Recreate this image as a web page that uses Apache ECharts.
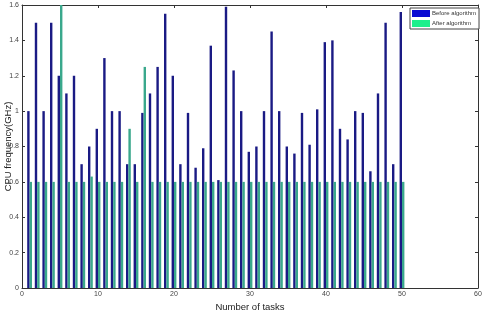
<!DOCTYPE html>
<html>
<head>
<meta charset="utf-8">
<script src="https://cdn.jsdelivr.net/npm/echarts@6/dist/echarts.min.js"></script>
<style>html,body{margin:0;padding:0;background:#fff;}#c{width:482px;height:312px;}</style>
</head>
<body>
<div id="c"></div>
<script>
const tasks = [1,2,3,4,5,6,7,8,9,10,11,12,13,14,15,16,17,18,19,20,21,22,23,24,25,26,27,28,29,30,31,32,33,34,35,36,37,38,39,40,41,42,43,44,45,46,47,48,49,50];
const before = [1.0,1.5,1.0,1.5,1.2,1.1,1.2,0.7,0.8,0.9,1.3,1.0,1.0,0.7,0.7,0.99,1.1,1.25,1.55,1.2,0.7,0.99,0.68,0.79,1.37,0.61,1.59,1.23,1.0,0.77,0.8,1.0,1.45,1.0,0.8,0.76,0.99,0.81,1.01,1.39,1.4,0.9,0.84,1.0,0.99,0.66,1.1,1.5,0.7,1.56];
const after = [0.6,0.6,0.6,0.6,1.6,0.6,0.6,0.6,0.63,0.6,0.6,0.6,0.6,0.9,0.6,1.25,0.6,0.6,0.6,0.6,0.6,0.6,0.6,0.6,0.6,0.6,0.6,0.6,0.6,0.6,0.6,0.6,0.6,0.6,0.6,0.6,0.6,0.6,0.6,0.6,0.6,0.6,0.6,0.6,0.6,0.6,0.6,0.6,0.6,0.6];
const seriesNames = ['Before algorithm','After algorithm'];
const xTicks = [0,10,20,30,40,50,60];
const yTicks = [0,0.2,0.4,0.6,0.8,1,1.2,1.4,1.6];

const chart = echarts.init(document.getElementById('c'));
const axisLine = {show:true, onZero:false, lineStyle:{color:'#333', width:1}};
const tick = {show:true, inside:true, length:3, lineStyle:{color:'#333'}};
const lbl = {color:'#444', fontSize:7, fontFamily:'Liberation Sans'};
const fmtY = v => String(Math.round(v*10)/10);
chart.setOption({
  animation:false,
  backgroundColor:'#fff',
  grid:{left:22, right:4, top:5, bottom:24, containLabel:false, outerBoundsMode:'none'},
  legend:{
    data:[{name:seriesNames[0], itemStyle:{color:'#0a0ad2'}},{name:seriesNames[1], itemStyle:{color:'#1ef08c'}}],
    orient:'vertical', left:410, top:8,
    itemWidth:18, itemHeight:7, itemGap:3,
    icon:'rect',
    textStyle:{fontSize:6, color:'#333', fontFamily:'Liberation Sans', padding:[0,0,0,-3]},
    backgroundColor:'#fff', borderColor:'#444', borderWidth:1, borderRadius:0,
    padding:[2,3,2,2]
  },
  xAxis:[{
    type:'value', min:xTicks[0], max:xTicks[xTicks.length-1], interval:10,
    name:'Number of tasks', nameLocation:'middle', nameGap:14, nameMoveOverlap:false,
    nameTextStyle:{fontSize:9.5, color:'#222', fontFamily:'Liberation Sans'},
    axisLine:axisLine, axisTick:tick,
    axisLabel:Object.assign({margin:3}, lbl), splitLine:{show:false}
  },{
    type:'value', position:'top', min:xTicks[0], max:xTicks[xTicks.length-1], interval:10,
    axisLine:axisLine, axisTick:tick,
    axisLabel:{show:false}, splitLine:{show:false}
  }],
  yAxis:[{
    type:'value', min:yTicks[0], max:yTicks[yTicks.length-1], interval:0.2,
    name:'CPU frequency(GHz)', nameLocation:'middle', nameGap:9, nameRotate:90, nameMoveOverlap:false,
    nameTextStyle:{fontSize:9.5, color:'#222', fontFamily:'Liberation Sans'},
    axisLine:axisLine, axisTick:tick,
    axisLabel:Object.assign({margin:3, formatter:fmtY}, lbl), splitLine:{show:false}
  },{
    type:'value', position:'right', min:yTicks[0], max:yTicks[yTicks.length-1], interval:0.2,
    axisLine:axisLine, axisTick:tick,
    axisLabel:{show:false}, splitLine:{show:false}
  }],
  series:[{
    name:seriesNames[0], type:'bar', xAxisIndex:0, yAxisIndex:0,
    data:tasks.map((t,i)=>[t,before[i]]),
    barWidth:2.4, barGap:'0%',
    itemStyle:{color:'#1a1a84'}, clip:true
  },{
    name:seriesNames[1], type:'bar', xAxisIndex:0, yAxisIndex:0,
    data:tasks.map((t,i)=>[t,after[i]]),
    barWidth:2.4, barGap:'0%',
    itemStyle:{color:'#3aa88c'}, clip:true
  }]
});
</script>
</body>
</html>
